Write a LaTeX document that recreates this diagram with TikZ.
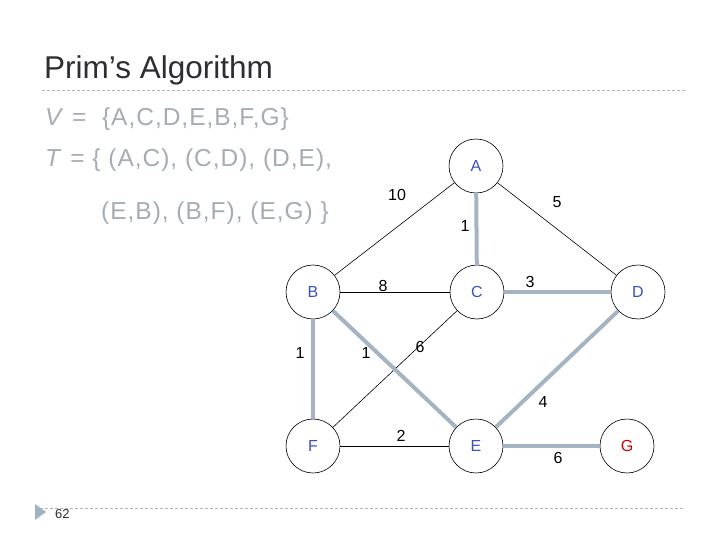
\documentclass[tikz,border=0pt]{standalone}
\usepackage{fontspec}
\setmainfont{Liberation Sans}
\begin{document}
\begin{tikzpicture}[x=1pt,y=-1pt,
  vert/.style={circle,draw=black,line width=0.6pt,minimum size=54pt,inner sep=0pt,font=\fontsize{16}{18}\selectfont,text=vblue},
  thin/.style={draw=black,line width=0.6pt},
  thick/.style={draw=tgray,line width=4pt},
  wlab/.style={font=\fontsize{16}{18}\selectfont,text=black,inner sep=0pt},
  body/.style={anchor=base west,inner sep=0pt,text=bgray,font=\fontsize{24.5}{28}\selectfont\addfontfeatures{LetterSpace=4}},
  sep/.style={draw=sepgray,line width=0.7pt,dash pattern=on 3pt off 2pt}]
\definecolor{vblue}{RGB}{60,80,190}
\definecolor{tgray}{RGB}{165,180,195}
\definecolor{bgray}{RGB}{165,172,180}
\definecolor{sepgray}{RGB}{180,180,180}
\definecolor{ttl}{RGB}{45,45,50}
\definecolor{tri}{RGB}{160,178,196}
\useasboundingbox (0,0) rectangle (720,540);
\node[anchor=base west,inner sep=0pt,text=ttl,font=\fontsize{31.5}{36}\selectfont] (title) at (44,79) {Prim’s Algorithm};
\coordinate (s1a) at (42,90); \coordinate (s1b) at (685,90);
\draw[sep] (s1a) -- (s1b);
\node[body] (vset) at (45,126) {\textit{V} =\ \ \{A,C,D,E,B,F,G\}};
\node[body] (tset1) at (45,167) {\textit{T} = \{ (A,C), (C,D), (D,E),};
\node[body] (tset2) at (101,219) {(E,B), (B,F), (E,G) \}};
\coordinate (s2a) at (35,508); \coordinate (s2b) at (685,508);
\draw[sep] (s2a) -- (s2b);
\fill[tri] (35,504) -- (46,512) -- (35,520) -- cycle;
\node[anchor=base west,inner sep=0pt,font=\fontsize{13}{15}\selectfont,text=ttl] (pg) at (55,518) {62};
% vertices
\node[vert] (A) at (476,166) {A};
\node[vert] (B) at (313,292) {B};
\node[vert] (C) at (477,292) {C};
\node[vert] (D) at (638,292) {D};
\node[vert] (F) at (313,446) {F};
\node[vert] (E) at (476,446) {E};
\node[vert,text=red!80!black] (G) at (627,446) {G};
% edges
\draw[thin] (A) -- (B);
\draw[thin] (A) -- (D);
\draw[thin] (B) -- (C);
\draw[thin] (C) -- (F);
\draw[thin] (F) -- (E);
\draw[thick] (A) -- (C);
\draw[thick] (C) -- (D);
\draw[thick] (B) -- (F);
\draw[thick] (B) -- (E);
\draw[thick] (D) -- (E);
\draw[thick] (E) -- (G);
% weights
\node[wlab] (w1) at (397,195) {10};
\node[wlab] (w2) at (557,202) {5};
\node[wlab] (w3) at (465,226) {1};
\node[wlab] (w4) at (383,286) {8};
\node[wlab] (w5) at (530,282) {3};
\node[wlab] (w6) at (300,353) {1};
\node[wlab] (w7) at (366,353) {1};
\node[wlab] (w8) at (420,347) {6};
\node[wlab] (w9) at (543,402) {4};
\node[wlab] (w10) at (401,436) {2};
\node[wlab] (w11) at (558,458) {6};
\end{tikzpicture}
\end{document}
